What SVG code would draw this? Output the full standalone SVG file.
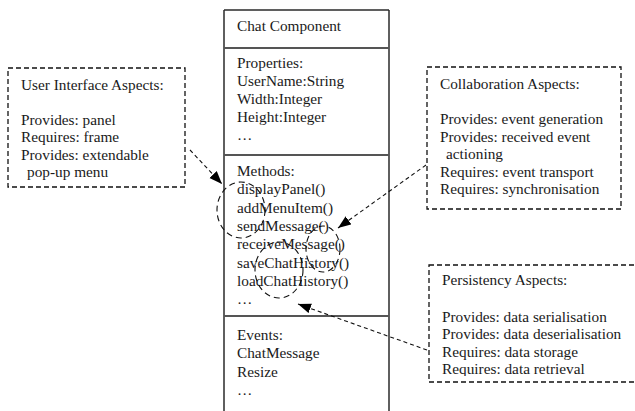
<svg xmlns="http://www.w3.org/2000/svg" width="635" height="411" viewBox="0 0 635 411">
  <style>
    text { font-family: "Liberation Serif", "Times New Roman", serif; font-size: 15.3px; fill: #1a1a1a; }
    .frame { fill: none; stroke: #2a2a2a; stroke-width: 1.5; }
    .sep { stroke: #555; stroke-width: 2; }
    .aspect { fill: #fff; stroke: #111; stroke-width: 1.3; stroke-dasharray: 5 3; }
    .link { fill: none; stroke: #111; stroke-width: 1.1; stroke-dasharray: 4 3; }
    .scope { fill: none; stroke: #111; stroke-width: 1.1; stroke-dasharray: 6 4; }
  </style>
  <defs>
    <marker id="head" markerUnits="userSpaceOnUse" markerWidth="14" markerHeight="12" refX="13" refY="5" orient="auto">
      <path d="M0,0 L13,5 L0,10 z" fill="#000"/>
    </marker>
    <clipPath id="persistClip">
      <rect x="429" y="265" width="206" height="111"/>
    </clipPath>
  </defs>

  <rect width="635" height="411" fill="#fff"/>

  <!-- component class box -->
  <g id="chat-component">
    <line class="frame" x1="224" y1="10" x2="389" y2="10"/>
    <line class="frame" x1="224" y1="10" x2="224" y2="411"/>
    <line class="frame" x1="389" y1="10" x2="389" y2="411"/>
    <line class="sep" x1="224" y1="48" x2="389" y2="48"/>
    <line class="sep" x1="224" y1="155" x2="389" y2="155"/>
    <line class="sep" x1="224" y1="316" x2="389" y2="316"/>
    <text x="237" y="31">Chat Component</text>
    <text x="237" y="68">Properties:</text>
    <text x="237" y="86">UserName:String</text>
    <text x="237" y="104">Width:Integer</text>
    <text x="237" y="122">Height:Integer</text>
    <text x="237" y="140">…</text>
    <text x="237" y="176">Methods:</text>
    <text x="237" y="194.3">displayPanel()</text>
    <text x="237" y="212.6">addMenuItem()</text>
    <text x="237" y="230.9">sendMessage()</text>
    <text x="237" y="249.2">receiveMessage()</text>
    <text x="237" y="267.5">saveChatHistory()</text>
    <text x="237" y="285.8">loadChatHistory()</text>
    <text x="237" y="304.1">…</text>
    <text x="237" y="340">Events:</text>
    <text x="237" y="358.3">ChatMessage</text>
    <text x="237" y="376.6">Resize</text>
    <text x="237" y="394.9">…</text>
  </g>

  <!-- method groupings -->
  <g id="method-scopes">
    <ellipse class="scope" cx="241" cy="210" rx="24" ry="28"/>
    <ellipse class="scope" cx="323" cy="249" rx="17" ry="23"/>
    <ellipse class="scope" cx="279" cy="270" rx="24" ry="28"/>
  </g>

  <g id="ui-aspects">
    <rect class="aspect" x="8" y="68" width="177" height="119"/>
    <text x="21" y="89.5">User Interface Aspects:</text>
    <text x="21" y="124.5">Provides: panel</text>
    <text x="21" y="142">Requires: frame</text>
    <text x="21" y="159.5">Provides: extendable</text>
    <text x="27" y="177">pop-up menu</text>
  </g>

  <g id="collaboration-aspects">
    <rect class="aspect" x="427" y="67" width="194" height="142"/>
    <text x="440" y="89.3">Collaboration Aspects:</text>
    <text x="440" y="124">Provides: event generation</text>
    <text x="440" y="141.5">Provides: received event</text>
    <text x="446" y="159">actioning</text>
    <text x="440" y="176.5">Requires: event transport</text>
    <text x="440" y="194">Requires: synchronisation</text>
  </g>

  <g id="persistency-aspects">
    <rect class="aspect" x="429" y="265" width="220" height="117"/>
    <g clip-path="url(#persistClip)">
      <text x="442" y="285">Persistency Aspects:</text>
      <text x="442" y="321.5">Provides: data serialisation</text>
      <text x="442" y="339">Provides: data deserialisation</text>
      <text x="442" y="356.5">Requires: data storage</text>
      <text x="442" y="374">Requires: data retrieval</text>
    </g>
  </g>

  <g id="connectors">
    <line class="link" x1="190" y1="150" x2="222" y2="184" marker-end="url(#head)"/>
    <line class="link" x1="426" y1="165" x2="338" y2="228" marker-end="url(#head)"/>
    <line class="link" x1="427" y1="350" x2="298" y2="304" marker-end="url(#head)"/>
  </g>
</svg>
